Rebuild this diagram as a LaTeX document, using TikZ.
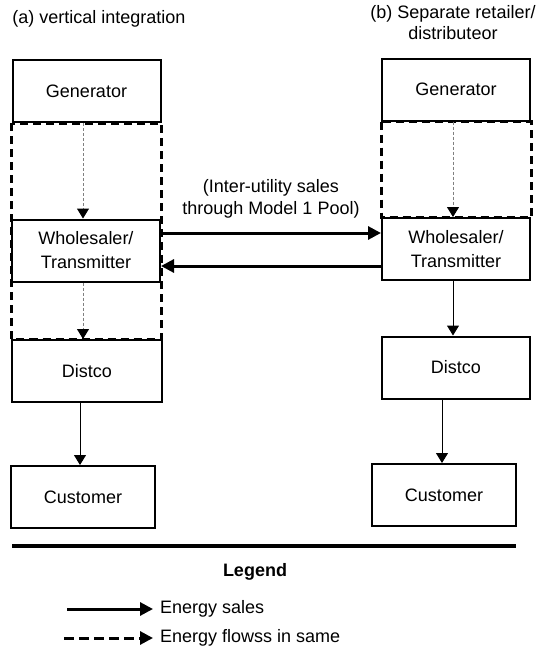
\documentclass[tikz,border=0pt]{standalone}
\usepackage{fontspec}
\setmainfont{Liberation Sans}
\usetikzlibrary{arrows.meta, positioning}

\begin{document}
\begin{tikzpicture}[x=0.5pt, y=-0.5pt, every node/.style={font=\fontsize{9}{10.5}\selectfont}]
  \tikzset{box/.style={draw, line width=1pt, minimum width=74pt, minimum height=31pt, inner sep=0pt, align=center, font=\fontsize{9}{12}\selectfont}}
  \tikzset{sale/.style={line width=0.5pt, -{Triangle[length=5pt, width=6pt]}}}
  \tikzset{pool/.style={line width=1.5pt, -{Triangle[length=6.5pt, width=6.5pt]}}}
  \tikzset{flow/.style={gray, line width=0.5pt, dash pattern=on 1.5pt off 1pt, -{Triangle[length=5pt, width=6pt, black]}}}
  \tikzset{zone/.style={line width=1.5pt, dash pattern=on 4pt off 2.5pt}}
  \useasboundingbox (0,0) rectangle (536,648);
  % (a) vertical integration
  \node[anchor=west, inner sep=0pt] (ltitle) at (12,19) {(a) vertical integration};
  \node[box] (lgen) at (86.5,91) {Generator};
  \node[box] (lwhole) at (86,250.5) {Wholesaler/\\Transmitter};
  \node[box, minimum width=75pt] (ldist) at (87,371) {Distco};
  \node[box, minimum width=72pt] (lcust) at (83,497) {Customer};
  \draw[zone] (lgen.south west) rectangle (lwhole.east |- ldist.north);
  \draw[flow] ([xshift=-1.75pt]lgen.south) -- ([xshift=-1.75pt]lgen.south |- lwhole.north);
  \draw[flow] ([xshift=-1.5pt]lwhole.south) -- ([xshift=-1.5pt]lwhole.south |- ldist.north);
  \draw[sale] ([xshift=-3.5pt]ldist.south) -- ([xshift=-3.5pt]ldist.south |- lcust.north);
  % (b) separate retailer
  \node[align=center] (rtitle) at (453,23) {(b) Separate retailer/\\distributeor};
  \node[box] (rgen) at (456,89.5) {Generator};
  \node[box] (rwhole) at (456,249) {Wholesaler/\\Transmitter};
  \node[box] (rdist) at (456,367.5) {Distco};
  \node[box, minimum width=72pt] (rcust) at (444,495) {Customer};
  \draw[zone] (rgen.south west) rectangle (rwhole.north east);
  \draw[flow] ([xshift=-1.5pt]rgen.south) -- ([xshift=-1.5pt]rgen.south |- rwhole.north);
  \draw[sale] ([xshift=-1.5pt]rwhole.south) -- ([xshift=-1.5pt]rwhole.south |- rdist.north);
  \draw[sale] ([xshift=-7pt]rdist.south) -- ([xshift=-7pt]rdist.south |- rcust.north);
  % pool trade
  \node[align=center, font=\fontsize{9}{11}\selectfont] (poollabel) at (271,199) {(Inter-utility sales\\through Model 1 Pool)};
  \draw[pool] ([yshift=8.75pt]lwhole.east) -- ([yshift=8.75pt]lwhole.east -| rwhole.west);
  \draw[pool] ([yshift=-8.5pt]rwhole.west) -- ([yshift=-8.5pt]rwhole.west -| lwhole.east);
  % legend
  \draw[line width=2pt] (12,546) -- (516,546);
  \node[font=\bfseries\fontsize{9}{10.5}\selectfont] (legend) at (255,572) {Legend};
  \node[anchor=west] (salestext) at (153,609) {Energy sales};
  \node[anchor=west] (flowtext) at (153,638) {Energy flowss in same};
  \coordinate (salesstart) at (67,609);
  \coordinate (flowstart) at (64,638);
  \draw[pool] (salesstart) -- (salestext.west);
  \draw[pool, dash pattern=on 5pt off 2.5pt] (flowstart) -- (flowtext.west);
\end{tikzpicture}
\end{document}
